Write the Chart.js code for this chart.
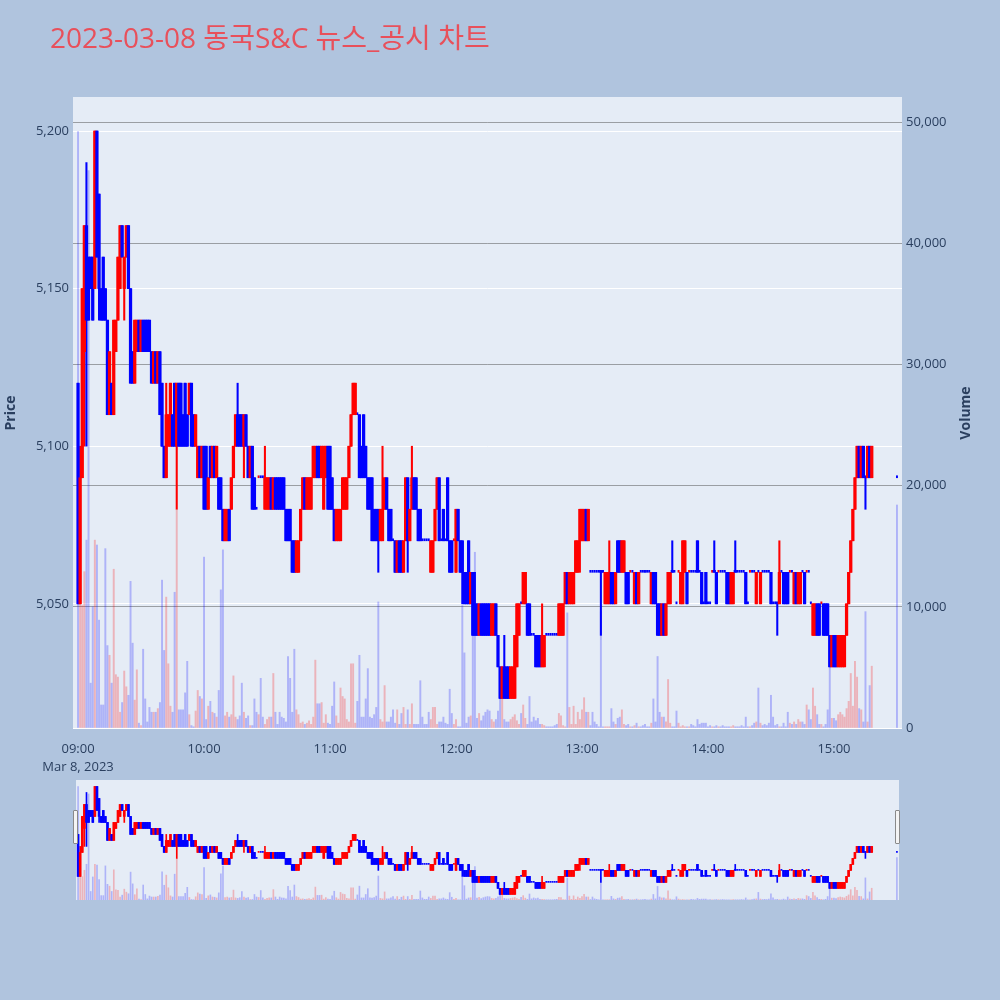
<!DOCTYPE html>
<html>
<head>
<meta charset="utf-8">
<script src="https://cdn.jsdelivr.net/npm/chart.js@4.4.0/dist/chart.umd.min.js"></script>
<style>
  body { margin: 0; background: #b0c4de; }
  #wrap { position: relative; width: 1000px; height: 1000px; }
  #main { position: absolute; left: 0; top: 0; }
  #mini { position: absolute; left: 76px; top: 780px; }
  .handle { position: absolute; top: 810px; width: 3px; height: 32px; background: #f4f4f4; border: 1px solid #8a8a8a; border-radius: 1px; }
</style>
</head>
<body>
<div id="wrap">
  <canvas id="main" width="1000" height="1000"></canvas>
  <canvas id="mini" width="823" height="120"></canvas>
  <div class="handle" style="left:73px"></div>
  <div class="handle" style="left:895px"></div>
</div>
<script>
// 2023-03-08 minute candles, Dongkuk S&C
const chartTitle = '2023-03-08 동국S&C 뉴스_공시 차트';
const dateLabel = 'Mar 8, 2023';
const hourLabels = ['09:00', '10:00', '11:00', '12:00', '13:00', '14:00', '15:00'];
const priceTicks = [5050, 5100, 5150, 5200];
const volumeTicks = [0, 10000, 20000, 30000, 40000, 50000];

// one bar per traded minute 09:00..15:18, then the 15:30 closing auction
const times = [];
for (let m = 0; m <= 378; m++) {
    const h = 9 + Math.floor(m / 60), mm = m % 60;
    times.push(String(h).padStart(2, '0') + ':' + String(mm).padStart(2, '0'));
}
times.push('15:30');

const opens = [
    5120,5050,5090,5130,5170,5160,5160,5160,5150,5200,
    5180,5150,5160,5150,5140,5110,5120,5110,5130,5140,
    5150,5170,5150,5160,5170,5150,5130,5120,5130,5140,
    5130,5140,5140,5140,5140,5130,5120,5130,5120,5130,
    5120,5100,5090,5100,5100,5110,5120,5100,5120,5120,
    5110,5120,5110,5110,5120,5110,5100,5090,5100,5090,
    5100,5100,5080,5100,5090,5100,5090,5090,5090,5080,
    5070,5070,5080,5080,5090,5100,5110,5110,5110,5100,
    5110,5100,5090,5100,5090,5080,5090,5090,5090,5080,
    5080,5080,5090,5080,5090,5090,5090,5090,5090,5080,
    5080,5080,5070,5070,5060,5060,5070,5080,5090,5080,
    5080,5080,5090,5090,5100,5100,5090,5080,5090,5100,
    5100,5090,5080,5070,5070,5070,5080,5080,5080,5090,
    5100,5110,5110,5110,5110,5100,5110,5100,5090,5090,
    5090,5080,5080,5080,5070,5070,5080,5090,5080,5080,
    5070,5070,5060,5070,5070,5060,5070,5090,5070,5080,
    5090,5090,5080,5080,5070,5070,5070,5070,5060,5060,
    5070,5080,5090,5070,5080,5070,5090,5070,5070,5070,
    5060,5080,5070,5070,5060,5060,5070,5050,5060,5050,
    5050,5040,5050,5050,5050,5050,5050,5040,5040,5050,
    5040,5030,5020,5030,5030,5030,5020,5020,5020,5030,
    5040,5050,5050,5050,5050,5050,5040,5040,5040,5040,
    5040,5030,5030,5040,5040,5040,5040,5040,5040,5040,
    5040,5040,5050,5060,5050,5050,5050,5060,5060,5070,
    5070,5070,5080,5070,5060,5060,5060,5060,5060,5060,
    5060,5050,5050,5050,5060,5060,5050,5070,5070,5060,
    5060,5060,5060,5060,5060,5050,5060,5050,5060,5060,
    5060,5060,5060,5050,5060,5060,5050,5050,5040,5050,
    5040,5050,5050,5060,5060,5050,5060,5050,5050,5060,
    5060,5060,5060,5060,5060,5070,5060,5060,5050,5060,
    5050,5050,5060,5060,5060,5060,5060,5060,5060,5060,
    5060,5050,5050,5060,5060,5060,5060,5060,5060,5050,
    5060,5060,5060,5050,5060,5050,5060,5060,5060,5060,
    5060,5050,5050,5050,5050,5060,5060,5060,5060,5060,
    5060,5050,5060,5050,5050,5060,5060,5060,5060,5050,
    5040,5040,5050,5050,5050,5050,5050,5050,5040,5030,
    5040,5040,5030,5030,5030,5030,5040,5050,5060,5070,
    5080,5090,5100,5090,5100,5090,5090,5100,5090,
    5090
];
const highs = [
    5120,5100,5150,5170,5190,5160,5160,5160,5200,5200,
    5180,5150,5160,5150,5140,5130,5120,5140,5140,5160,
    5170,5170,5160,5170,5170,5150,5130,5140,5140,5140,
    5140,5140,5140,5140,5140,5130,5130,5130,5130,5130,
    5120,5100,5120,5110,5120,5110,5120,5120,5120,5120,
    5110,5120,5110,5120,5120,5110,5110,5100,5100,5100,
    5100,5100,5090,5100,5100,5100,5100,5090,5090,5080,
    5080,5080,5080,5090,5100,5110,5120,5110,5110,5110,
    5110,5100,5100,5100,5090,5080,5090,5090,5090,5100,
    5090,5090,5090,5090,5090,5090,5090,5090,5090,5080,
    5080,5080,5070,5070,5070,5070,5080,5090,5090,5090,
    5090,5090,5100,5100,5100,5100,5100,5100,5100,5100,
    5100,5090,5080,5080,5080,5080,5090,5090,5090,5100,
    5110,5120,5120,5110,5110,5100,5110,5100,5090,5090,
    5090,5080,5080,5080,5080,5100,5090,5090,5080,5080,
    5070,5070,5070,5070,5070,5070,5090,5090,5080,5100,
    5090,5090,5080,5080,5070,5070,5070,5070,5070,5070,
    5080,5090,5090,5070,5080,5070,5090,5070,5070,5070,
    5080,5080,5070,5070,5060,5060,5070,5060,5060,5060,
    5050,5050,5050,5050,5050,5050,5050,5050,5050,5050,
    5040,5030,5030,5040,5030,5030,5030,5030,5040,5050,
    5050,5050,5060,5060,5050,5050,5040,5040,5040,5040,
    5040,5050,5040,5040,5040,5040,5040,5040,5040,5050,
    5050,5050,5060,5060,5060,5060,5060,5070,5070,5080,
    5080,5080,5080,5080,5060,5060,5060,5060,5060,5060,
    5060,5060,5060,5070,5060,5060,5060,5070,5070,5070,
    5070,5060,5060,5060,5060,5060,5060,5060,5060,5060,
    5060,5060,5060,5060,5060,5060,5050,5050,5050,5050,
    5050,5060,5060,5070,5060,5050,5060,5060,5070,5070,
    5060,5060,5060,5060,5060,5070,5060,5060,5050,5060,
    5050,5050,5060,5070,5060,5060,5060,5060,5060,5060,
    5060,5060,5060,5070,5060,5060,5060,5060,5060,5050,
    5060,5060,5060,5060,5060,5060,5060,5060,5060,5060,
    5060,5050,5050,5050,5070,5060,5060,5060,5060,5060,
    5060,5060,5060,5060,5060,5060,5060,5060,5060,5050,
    5050,5050,5050,5050,5050,5050,5050,5050,5040,5040,
    5040,5040,5040,5040,5040,5040,5050,5060,5070,5080,
    5090,5100,5100,5100,5100,5090,5100,5100,5100,
    5090
];
const lows = [
    5050,5050,5090,5100,5100,5140,5150,5140,5150,5160,
    5140,5140,5140,5140,5110,5110,5110,5110,5130,5140,
    5150,5160,5140,5160,5150,5120,5120,5120,5130,5130,
    5130,5130,5130,5130,5130,5120,5120,5120,5120,5110,
    5100,5090,5090,5100,5100,5100,5100,5080,5100,5100,
    5100,5100,5100,5110,5100,5100,5100,5090,5090,5090,
    5080,5080,5080,5090,5090,5090,5090,5080,5080,5070,
    5070,5070,5070,5080,5090,5100,5100,5100,5100,5090,
    5100,5090,5090,5080,5080,5080,5090,5090,5090,5080,
    5080,5080,5080,5080,5080,5080,5080,5080,5080,5070,
    5070,5070,5060,5060,5060,5060,5070,5080,5080,5080,
    5080,5080,5090,5090,5090,5090,5090,5080,5090,5080,
    5080,5080,5070,5070,5070,5070,5080,5080,5080,5090,
    5100,5110,5110,5110,5090,5090,5090,5090,5080,5080,
    5070,5070,5070,5060,5070,5070,5080,5080,5070,5070,
    5070,5060,5060,5060,5060,5060,5070,5060,5070,5080,
    5080,5080,5070,5070,5070,5070,5070,5070,5060,5060,
    5070,5080,5070,5070,5070,5070,5070,5060,5060,5070,
    5060,5070,5060,5050,5050,5050,5050,5050,5040,5040,
    5040,5040,5040,5040,5040,5040,5040,5040,5040,5040,
    5030,5020,5020,5020,5020,5020,5020,5020,5020,5030,
    5040,5050,5050,5050,5040,5040,5040,5040,5030,5030,
    5030,5030,5030,5040,5040,5040,5040,5040,5040,5040,
    5040,5040,5050,5050,5050,5050,5050,5060,5060,5060,
    5070,5070,5070,5070,5060,5060,5060,5060,5060,5040,
    5060,5050,5050,5050,5050,5050,5050,5060,5060,5060,
    5060,5050,5050,5060,5060,5050,5050,5050,5060,5060,
    5060,5060,5060,5050,5050,5050,5040,5040,5040,5040,
    5040,5050,5050,5060,5060,5050,5060,5050,5050,5060,
    5050,5060,5060,5060,5060,5060,5060,5050,5050,5050,
    5050,5050,5060,5060,5050,5060,5060,5060,5060,5050,
    5050,5050,5050,5060,5060,5060,5060,5060,5050,5050,
    5060,5060,5060,5050,5060,5050,5060,5060,5060,5060,
    5050,5050,5050,5040,5050,5060,5050,5050,5050,5060,
    5060,5050,5050,5050,5050,5060,5050,5060,5060,5050,
    5040,5040,5040,5040,5050,5040,5040,5040,5030,5030,
    5030,5030,5030,5030,5030,5030,5040,5050,5060,5070,
    5080,5090,5090,5090,5090,5080,5090,5090,5090,
    5090
];
const closes = [
    5050,5090,5150,5170,5140,5140,5150,5140,5200,5160,
    5150,5140,5140,5140,5110,5130,5110,5140,5140,5160,
    5170,5160,5160,5170,5150,5120,5120,5140,5140,5130,
    5140,5130,5130,5130,5130,5120,5130,5120,5130,5110,
    5100,5090,5110,5110,5120,5100,5100,5120,5100,5100,
    5100,5100,5100,5120,5100,5100,5110,5100,5090,5100,
    5080,5080,5090,5090,5100,5090,5100,5080,5080,5070,
    5080,5080,5070,5090,5100,5110,5100,5100,5100,5110,
    5100,5090,5100,5080,5080,5080,5090,5090,5090,5090,
    5090,5090,5080,5090,5080,5080,5080,5080,5080,5070,
    5070,5070,5060,5060,5070,5070,5080,5090,5080,5090,
    5090,5090,5100,5100,5090,5090,5100,5100,5100,5080,
    5080,5080,5070,5080,5080,5080,5090,5090,5090,5100,
    5110,5120,5120,5110,5090,5090,5090,5090,5080,5080,
    5070,5070,5070,5070,5080,5080,5090,5080,5070,5070,
    5070,5060,5070,5060,5060,5070,5090,5070,5080,5090,
    5080,5080,5070,5070,5070,5070,5070,5070,5070,5070,
    5080,5090,5070,5070,5070,5070,5070,5060,5060,5070,
    5080,5070,5060,5060,5050,5050,5050,5060,5040,5040,
    5040,5050,5040,5040,5040,5040,5040,5050,5050,5040,
    5030,5020,5030,5020,5020,5020,5030,5030,5040,5050,
    5050,5050,5060,5060,5040,5040,5040,5040,5030,5030,
    5030,5040,5040,5040,5040,5040,5040,5040,5040,5050,
    5050,5050,5060,5050,5060,5060,5060,5070,5070,5080,
    5080,5080,5070,5080,5060,5060,5060,5060,5060,5060,
    5060,5060,5060,5060,5050,5050,5060,5060,5060,5070,
    5070,5050,5050,5060,5060,5060,5050,5060,5060,5060,
    5060,5060,5060,5060,5050,5050,5040,5040,5050,5040,
    5050,5060,5060,5060,5060,5050,5060,5060,5070,5070,
    5050,5060,5060,5060,5060,5060,5060,5050,5050,5050,
    5050,5050,5060,5060,5050,5060,5060,5060,5060,5050,
    5050,5060,5060,5060,5060,5060,5060,5060,5050,5050,
    5060,5060,5060,5060,5060,5060,5060,5060,5060,5060,
    5050,5050,5050,5050,5060,5060,5050,5050,5050,5060,
    5060,5060,5050,5060,5060,5060,5050,5060,5060,5050,
    5050,5050,5040,5040,5050,5040,5040,5040,5030,5040,
    5030,5030,5040,5040,5040,5040,5050,5060,5070,5080,
    5090,5100,5090,5100,5090,5090,5100,5090,5100,
    5090
];
const volumes = [
    49200,19600,10100,12900,15500,46000,3700,10000,15500,15100,
    8900,1900,1900,14800,6800,6000,3700,13100,4400,4200,
    1300,2100,4700,3400,2700,12100,7000,2300,4800,400,
    200,6500,2400,500,1700,1300,1300,1300,1600,2100,
    12200,6400,10800,5300,1800,1300,11200,18000,1500,1500,
    1500,2900,5500,1100,200,100,1400,3100,2600,2400,
    14100,700,1800,2200,1300,1200,900,3100,11400,14700,
    1000,1300,900,1100,4300,900,700,1000,3700,1300,
    800,1000,200,200,2400,1300,1100,4100,900,300,
    700,900,900,4500,1300,300,1300,900,800,500,
    5900,4100,1300,6500,1500,1100,400,500,300,400,
    600,300,900,5600,2000,2000,2100,400,1100,400,
    300,1800,3800,1000,400,3300,2600,2400,700,500,
    5300,5300,400,2200,6000,900,900,2400,4900,900,
    800,1100,1700,10400,700,500,3500,500,500,900,
    1500,400,1500,300,1200,1700,300,1500,300,2000,
    300,300,300,3900,900,300,300,1300,700,1700,
    1700,300,500,500,900,400,300,3200,1200,300,
    700,100,100,10100,6200,400,900,1000,7700,14500,
    800,1200,600,1000,1300,1500,1400,700,500,700,
    1400,4600,5100,700,500,500,700,900,1100,600,
    300,1200,1900,800,300,2600,500,900,600,800,
    300,300,200,100,100,100,100,200,300,1200,
    1000,200,100,9500,1700,300,1800,300,1300,700,
    1500,2500,1300,1300,200,1300,500,300,100,9600,
    100,100,100,100,1600,500,300,800,900,1500,
    300,200,300,100,100,200,400,100,100,200,
    300,100,100,400,2400,500,5900,1300,900,900,
    500,4000,400,100,100,1400,400,100,200,100,
    100,100,300,200,100,700,300,400,400,400,
    100,200,100,100,200,100,100,200,100,100,
    100,100,200,100,100,100,200,100,900,100,
    100,200,400,500,3300,400,200,300,200,400,
    2700,900,200,300,100,100,400,100,1300,400,
    300,500,300,700,500,500,300,1900,1500,700,
    3300,1800,1100,300,300,100,300,1500,5100,800,
    800,600,1100,1300,1100,900,1600,2200,4500,1800,
    5500,4200,1600,1500,500,9600,500,3500,5100,
    18400
];

// Colours
const upColor = '#ff0000';
const downColor = '#0000ff';
const volUp = 'rgba(255, 0, 0, 0.24)';
const volDown = 'rgba(0, 0, 255, 0.24)';
const plotBg = '#e5ecf6';
const textColor = '#2a3f5f';
const titleColor = '#e8505b';
const fontFamily = "'Open Sans', 'Noto Sans CJK KR', sans-serif";

const minuteOf = t => (parseInt(t.slice(0, 2), 10) - 9) * 60 + parseInt(t.slice(3), 10);
const xs = times.map(minuteOf);
// plotly style: flat candles take their colour from the previous close
const rising = closes.map((c, i) => c > opens[i] || (c === opens[i] && i > 0 && c > closes[i - 1]));
const isDoji = highs.map((h, i) => h === lows[i]);

function buildDatasets(w) {
    const colors = rising.map(u => u ? upColor : downColor);
    return [{
        label: 'Volume',
        yAxisID: 'y2',
        order: 3,
        grouped: false,
        barThickness: w.vol,
        data: xs.map((x, i) => ({ x: x, y: volumes[i] })),
        backgroundColor: rising.map(u => u ? volUp : volDown)
    }, {
        label: 'Wick',
        yAxisID: 'y',
        order: 2,
        grouped: false,
        barThickness: w.wick,
        minBarLength: w.min,
        data: xs.map((x, i) => ({ x: x, y: isDoji[i] ? null : [lows[i], highs[i]] })),
        backgroundColor: colors
    }, {
        label: 'Body',
        yAxisID: 'y',
        order: 1,
        grouped: false,
        barThickness: w.body,
        minBarLength: w.min,
        data: xs.map((x, i) => ({ x: x, y: isDoji[i] ? null : [Math.min(opens[i], closes[i]), Math.max(opens[i], closes[i])] })),
        backgroundColor: colors
    }, {
        label: 'Flat',
        yAxisID: 'y',
        order: 1,
        grouped: false,
        barThickness: w.doji,
        minBarLength: w.min,
        data: xs.map((x, i) => ({ x: x, y: isDoji[i] ? [opens[i], closes[i]] : null })),
        backgroundColor: colors
    }];
}

const priceMin = 5010.6, priceMax = 5210.8, volMax = 52063;

const decor = {
    id: 'decor',
    beforeDraw(chart) {
        const { ctx, chartArea: a } = chart;
        ctx.save();
        ctx.fillStyle = plotBg;
        ctx.fillRect(a.left, a.top, a.right - a.left, a.bottom - a.top);
        ctx.restore();
    },
    afterDraw(chart) {
        const ctx = chart.ctx;
        ctx.save();
        ctx.fillStyle = titleColor;
        ctx.font = '28px ' + fontFamily;
        ctx.textBaseline = 'middle';
        ctx.fillText(chartTitle, 50, 40);

        ctx.fillStyle = textColor;
        ctx.font = 'bold 14px ' + fontFamily;
        ctx.textAlign = 'center';
        ctx.translate(11, 413);
        ctx.rotate(-Math.PI / 2);
        ctx.fillText('Price', 0, 0);
        ctx.restore();

        ctx.save();
        ctx.fillStyle = textColor;
        ctx.font = 'bold 14px ' + fontFamily;
        ctx.textAlign = 'center';
        ctx.textBaseline = 'middle';
        ctx.translate(966, 413);
        ctx.rotate(-Math.PI / 2);
        ctx.fillText('Volume', 0, 0);
        ctx.restore();
    }
};

new Chart(document.getElementById('main'), {
    type: 'bar',
    data: { datasets: buildDatasets({ vol: 1.3, wick: 1.4, body: 2.6, doji: 1.3, min: 2 }) },
    options: {
        responsive: false,
        animation: false,
        layout: { padding: { top: 97, left: 0, right: 0, bottom: 0 } },
        plugins: { legend: { display: false }, tooltip: { enabled: false } },
        scales: {
            x: {
                type: 'linear',
                min: -2.4,
                max: 392.4,
                offset: false,
                grid: { display: false },
                border: { display: false },
                afterBuildTicks: s => { s.ticks = hourLabels.map(t => ({ value: minuteOf(t) })); },
                afterFit: s => { s.height = 272; },
                ticks: {
                    autoSkip: false,
                    maxRotation: 0,
                    padding: 5,
                    color: textColor,
                    font: { family: fontFamily, size: 13, lineHeight: 1.35 },
                    callback: v => {
                        const t = hourLabels.find(h => minuteOf(h) === v);
                        return v === 0 ? [t, dateLabel] : t;
                    }
                }
            },
            y: {
                position: 'left',
                min: priceMin,
                max: priceMax,
                afterBuildTicks: s => { s.ticks = priceTicks.map(v => ({ value: v })); },
                afterFit: s => { s.width = 73; },
                grid: { color: '#ffffff', lineWidth: 1, drawTicks: false },
                border: { display: false },
                ticks: {
                    padding: 4,
                    color: textColor,
                    font: { family: fontFamily, size: 13 },
                    callback: v => v.toLocaleString('en-US')
                }
            },
            y2: {
                position: 'right',
                min: 0,
                max: volMax,
                afterBuildTicks: s => { s.ticks = volumeTicks.map(v => ({ value: v })); },
                afterFit: s => { s.width = 98; },
                grid: {
                    color: c => c.tick && c.tick.value === 0 ? '#ffffff' : 'rgba(80, 80, 80, 0.5)',
                    lineWidth: 1,
                    drawTicks: false
                },
                border: { display: false },
                ticks: {
                    padding: 4,
                    color: textColor,
                    font: { family: fontFamily, size: 13 },
                    callback: v => v.toLocaleString('en-US')
                }
            }
        }
    },
    plugins: [decor]
});

// range slider preview
new Chart(document.getElementById('mini'), {
    type: 'bar',
    data: { datasets: buildDatasets({ vol: 1, wick: 1, body: 2, doji: 1.2, min: 1 }) },
    options: {
        responsive: false,
        animation: false,
        layout: { padding: 0 },
        plugins: { legend: { display: false }, tooltip: { enabled: false } },
        scales: {
            x: { type: 'linear', min: -1, max: 391, offset: false, display: false },
            y: { min: priceMin, max: priceMax, display: false },
            y2: { min: 0, max: volMax, display: false }
        }
    },
    plugins: [{
        id: 'miniBg',
        beforeDraw(chart) {
            const ctx = chart.ctx;
            ctx.save();
            ctx.fillStyle = plotBg;
            ctx.fillRect(0, 0, chart.width, chart.height);
            ctx.restore();
        }
    }]
});
</script>
</body>
</html>
